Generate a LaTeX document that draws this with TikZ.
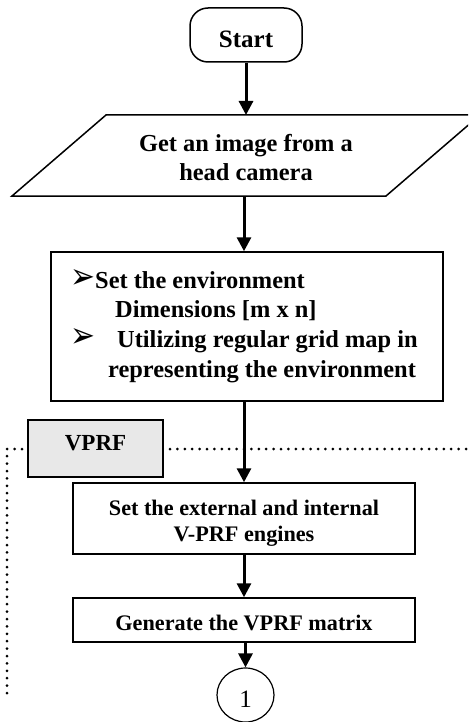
\documentclass[tikz,border=0pt]{standalone}
\usepackage{fontspec}
\setmainfont{Liberation Serif}
\newfontfamily\symfont{DejaVu Sans}
\usetikzlibrary{arrows.meta,shapes.geometric}
\newcommand{\arrbullet}{\resizebox{25pt}{19pt}{\symfont ➢}}
\begin{document}
\begin{tikzpicture}[x=1pt,y=-1pt,
  box/.style={draw,line width=1.5pt,inner sep=0pt},
  conn/.style={line width=3pt,-{Triangle[length=14pt,width=14pt]}},
  bigf/.style={font=\fontsize{24.4}{29}\selectfont\bfseries},
  midf/.style={font=\fontsize{22.2}{26}\selectfont\bfseries},
  txt/.style={anchor=base,inner sep=0pt},
  txtl/.style={anchor=base west,inner sep=0pt},
  dots/.style={line width=3pt,line cap=round,dash pattern=on 0pt off 7.4pt}]
\useasboundingbox (0,0) rectangle (468,722);
\clip (0,0) rectangle (468,722);

% Start
\node[box,rounded corners=18pt,minimum width=112pt,minimum height=54pt] (start) at (246,35) {};
\node[txt,font=\fontsize{25}{29}\selectfont\bfseries] (starttxt) at (246,48) {Start};

% parallelogram
\coordinate (pSW) at (12,196);
\coordinate (pSE) at (386,196);
\coordinate (pNE) at (480,115);
\coordinate (pNW) at (106,115);
\coordinate (partop) at (246,115);
\coordinate (parbot) at (244,196);
\draw[line width=1.5pt,line join=miter] (pSW) -- (pSE) -- (pNE) -- (pNW) -- cycle;
\node[txt,bigf] (get1) at (246,152) {Get an image from a};
\node[txt,bigf] (get2) at (246,180) {head camera};

% box 2
\node[box,minimum width=392pt,minimum height=149pt] (env) at (247,326.5) {};
\node[txtl] (e1b) at (70.5,288) {\arrbullet};
\node[txtl,bigf] (e1) at (95,288) {Set the environment};
\node[txtl,bigf] (e2) at (115,317) {Dimensions [m x n]};
\node[txtl] (e3b) at (70.5,347) {\arrbullet};
\node[txtl,bigf] (e3) at (117,347) {Utilizing regular grid map in};
\node[txtl,bigf] (e4) at (108,377) {representing the environment};

% dotted frame
\coordinate (dB) at (7,693);
\coordinate (dL) at (7,449);
\coordinate (dR) at (472,449);
\draw[dots] (dB) -- (dL) -- (dR);

% VPRF tag
\node[box,fill=black!9,minimum width=135pt,minimum height=57pt] (vprf) at (95.5,448.5) {};
\node[txt,font=\fontsize{23}{27}\selectfont\bfseries] (vprftxt) at (95.5,450) {VPRF};

% box 3
\node[box,minimum width=342pt,minimum height=71pt] (eng) at (244,518.5) {};
\node[txt,midf] (g1) at (244,515) {Set the external and internal};
\node[txt,midf] (g2) at (244,541) {V-PRF engines};

% box 4
\node[box,minimum width=342pt,minimum height=44pt] (mat) at (244,620) {};
\node[txt,midf] (m1) at (244,630) {Generate the VPRF matrix};

% connector circle
\node[ellipse,draw,line width=1.2pt,inner sep=0pt,minimum width=57pt,minimum height=54pt] (c1) at (245.5,695) {};
\node[txt,font=\fontsize{25}{29}\selectfont] (c1txt) at (245.5,707) {1};

% connectors
\draw[conn] (start) -- (partop);
\draw[conn] (parbot) -- (parbot |- env.north);
\draw[conn] (env.south -| eng.north) -- (eng.north);
\draw[conn] (eng) -- (mat);
\draw[conn] (mat.south -| c1.north) -- (c1.north);
\end{tikzpicture}
\end{document}
